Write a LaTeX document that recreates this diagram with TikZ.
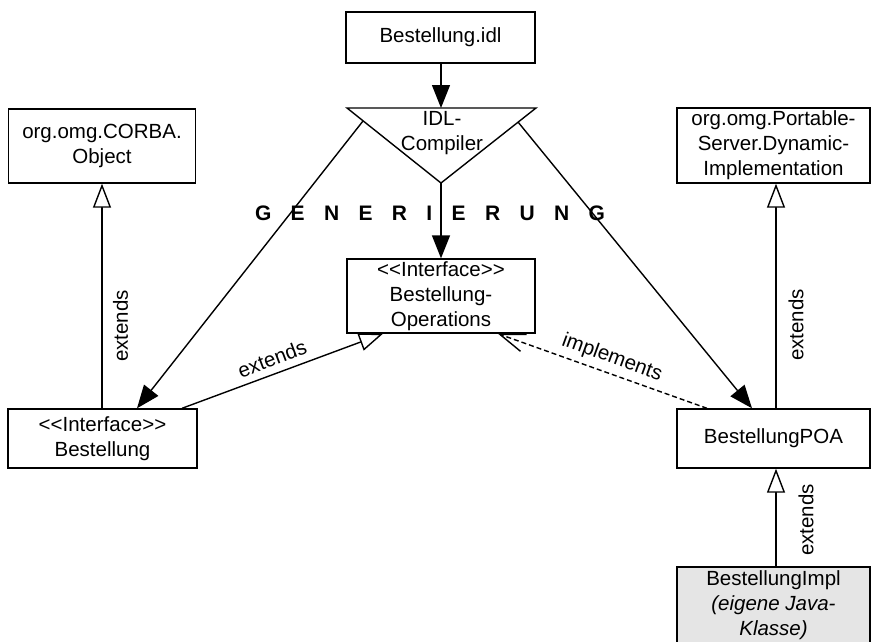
\documentclass[tikz,border=0pt]{standalone}
\usepackage{fontspec}
\setmainfont{Liberation Sans}
\usetikzlibrary{arrows.meta,calc}
\newcommand\ltlt{<\kern0pt<}
\newcommand\gtgt{>\kern0pt>}
\begin{document}
\begin{tikzpicture}[x=1pt,y=-1pt,line width=1.4pt,
  txt/.style={font=\fontsize{20.5}{25}\selectfont},
  box/.style={draw,txt,align=center,inner sep=0pt,line width=1.4pt},
  gen/.style={-{Triangle[length=23pt,width=18pt]}},
  ext/.style={-{Triangle[open,length=24pt,width=18pt,fill=white]}},
  impl/.style={dashed,dash pattern=on 5pt off 3pt,-{Straight Barb[length=25pt,width=18pt,line width=1.4pt]}},
  lab/.style={txt,inner sep=0pt}]
\useasboundingbox (0,0) rectangle (872,641);
% boxes
\node[box,minimum width=189pt,minimum height=51pt] (idl) at (440.5,37.5) {Bestellung.idl};
\node[box,minimum width=187pt,minimum height=74pt] (corba) at (102,146) {org.omg.CORBA.\\Object};
\node[box,minimum width=193pt,minimum height=75pt] (psd) at (773.5,145.5) {org.omg.Portable-\\Server.Dynamic-\\Implementation};
\node[box,minimum width=188pt,minimum height=74pt] (ops) at (441,296) {\ltlt Interface\gtgt\\Bestellung-\\Operations};
\node[box,minimum width=189pt,minimum height=59pt] (best) at (102.5,438.5) {\ltlt Interface\gtgt\\Bestellung};
\node[box,minimum width=193pt,minimum height=59pt] (poa) at (773.5,438.5) {BestellungPOA};
\node[box,fill=black!10,minimum width=193pt,minimum height=76pt] (impl) at (773.5,605) {BestellungImpl\\\textit{(eigene Java-}\\\textit{Klasse)}};
% compiler triangle
\coordinate (tl) at (347,108);
\coordinate (tr) at (536,108);
\coordinate (ta) at (441,183);
\draw[line join=miter] (tl) -- (tr) -- (ta) -- cycle;
\node[lab,align=center] (comp) at (442,133) {IDL-\\Compiler};
\coordinate (tt) at (441,108);
\coordinate (lsrc) at (363,121);
\coordinate (rsrc) at (518,122);
% GENERIERUNG
\node[inner sep=0pt,font=\fontsize{21}{25}\selectfont\bfseries] (gen) at (430,213)
  {\makebox[350pt]{G\hfill E\hfill N\hfill E\hfill R\hfill I\hfill E\hfill R\hfill U\hfill N\hfill G}};
% generation arrows
\draw[gen] (idl.south -| tt) -- (tt);
\draw[gen] (ta) -- (ta |- ops.north);
\draw[gen] (lsrc) -- ([xshift=34.5pt]best.north);
\draw[gen] (rsrc) -- ([xshift=-21.5pt]poa.north);
% extends
\draw[ext] (best.north -| corba.south) -- (corba.south);
\node[lab,rotate=90] (e1) at (120.5,326) {extends};
\draw[ext] ([xshift=79.5pt]best.north) -- ([xshift=-58pt]ops.south);
\node[lab,rotate=20.7] (e2) at (272,359) {extends};
\draw[ext] ([xshift=2.5pt]poa.north) -- ([xshift=2.5pt]psd.south);
\node[lab,rotate=90] (e3) at (796,325) {extends};
\draw[ext] ([xshift=2.5pt]impl.north) -- ([xshift=2.5pt]poa.south);
\node[lab,rotate=90] (e4) at (806,520) {extends};
% implements
\draw[impl] ([xshift=-66.5pt]poa.north) -- ([xshift=57pt]ops.south);
\node[lab,rotate=-20] (im) at (612,358) {implements};
\end{tikzpicture}
\end{document}
